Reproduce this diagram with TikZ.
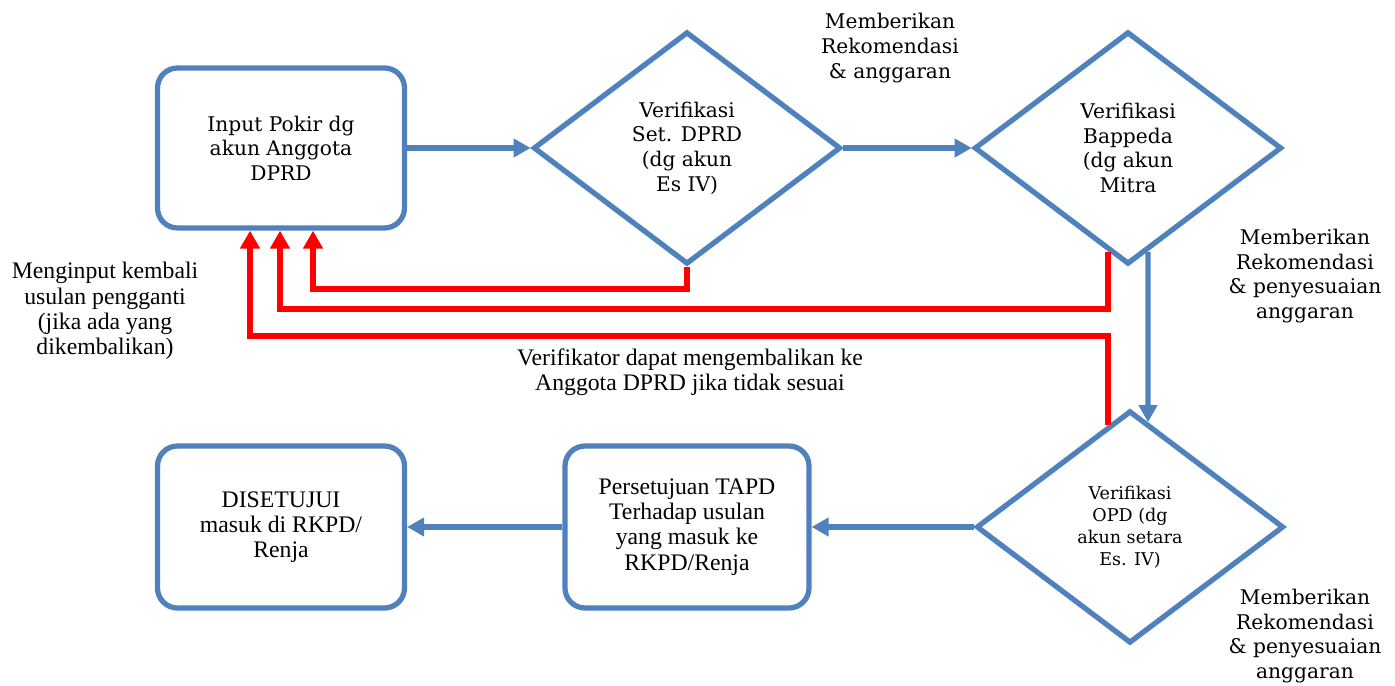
\documentclass[tikz,border=0pt]{standalone}
\usepackage{fontspec}
\setmainfont{DejaVu Serif}
\newfontfamily\narrowfont{Liberation Serif}
\usepackage{xcolor}
\usepackage{tikz}
\usetikzlibrary{shapes.geometric, arrows.meta}
\definecolor{flowblue}{HTML}{4F81BD}
\newcommand{\widetext}{\fontsize{11.5}{14}\selectfont}
\newcommand{\smalltext}{\fontsize{10}{12.5}\selectfont}
\newcommand{\slimtext}{\narrowfont\fontsize{13.5}{14.4}\selectfont}
\tikzstyle{roundbox} = [rectangle, rounded corners=0.4cm, minimum width=4.94cm, minimum height=3.2cm, text centered, align=center, draw=flowblue, line width=3pt, fill=white, font=\widetext]
\tikzstyle{checkbox} = [diamond, minimum width=6.15cm, minimum height=4.65cm, inner sep=0pt, text centered, align=center, draw=flowblue, line width=3pt, fill=white, font=\widetext]
\tikzstyle{arrow} = [line width=3pt, draw=flowblue, -{Triangle[length=0.34cm, width=0.36cm]}]
\tikzstyle{backarrow} = [line width=3pt, draw=red, -{Triangle[length=0.36cm, width=0.38cm]}]
\tikzstyle{note} = [align=center, inner sep=0pt, font=\widetext]

\begin{document}
\begin{tikzpicture}[node distance=8.12cm]
            \useasboundingbox (0,0) rectangle (27.9,13.7);
            \node (input) [roundbox] at (5.62,10.74) {Input Pokir dg\\akun Anggota\\DPRD};
            \node (setdprd) [checkbox, right of=input] {Verifikasi\\Set. DPRD\\(dg akun\\Es IV)};
            \node (bappeda) [checkbox, right of=setdprd, xshift=0.7cm] {Verifikasi\\Bappeda\\(dg akun\\Mitra};
            \node (opd) [checkbox, below of=bappeda, xshift=0.04cm, yshift=0.54cm, font=\smalltext] {Verifikasi\\OPD (dg\\akun setara\\Es. IV)};
            \node (tapd) [roundbox, left of=opd, xshift=-0.74cm, minimum width=4.88cm, minimum height=3.24cm, font=\slimtext] {Persetujuan TAPD\\Terhadap usulan\\yang masuk ke\\RKPD/Renja};
            \node (disetujui) [roundbox, left of=tapd, minimum height=3.24cm, font=\slimtext] {DISETUJUI\\masuk di RKPD/\\Renja};

            \node (rekom1) [note] at (17.8,12.74) {Memberikan\\Rekomendasi\\\& anggaran};
            \node (rekom2) [note] at (26.1,8.18) {Memberikan\\Rekomendasi\\\& penyesuaian\\anggaran};
            \node (rekom3) [note] at (26.1,0.98) {Memberikan\\Rekomendasi\\\& penyesuaian\\anggaran};
            \node (ulang) [note, font=\slimtext] at (2.1,7.48) {Menginput kembali\\usulan pengganti\\(jika ada yang\\dikembalikan)};
            \node (kembali) [note, font=\slimtext] at (13.8,6.26) {Verifikator dapat mengembalikan ke\\Anggota DPRD jika tidak sesuai};

            \draw [arrow] (input) -- (setdprd);
            \draw [arrow] (setdprd) -- (bappeda);
            \draw [arrow] ([shift={(0.4,0.3)}]bappeda.south) -- ([shift={(0.36,-0.28)}]opd.north);
            \draw [arrow] (opd) -- (tapd);
            \draw [arrow] (tapd) -- (disetujui);
            %\draw [arrow] (disetujui.north) -- (input.south);
            \draw [backarrow] (setdprd.south) -- ++(0,-0.44) -| ([xshift=0.64cm]input.south);
            \draw [backarrow] ([shift={(-0.4,0.3)}]bappeda.south) -- ++(0,-1.14) -| ([xshift=-0.02cm]input.south);
            \draw [backarrow] ([shift={(-0.44,-0.34)}]opd.north) -- ++(0,1.78) -| ([xshift=-0.62cm]input.south);
        \end{tikzpicture}
\end{document}
